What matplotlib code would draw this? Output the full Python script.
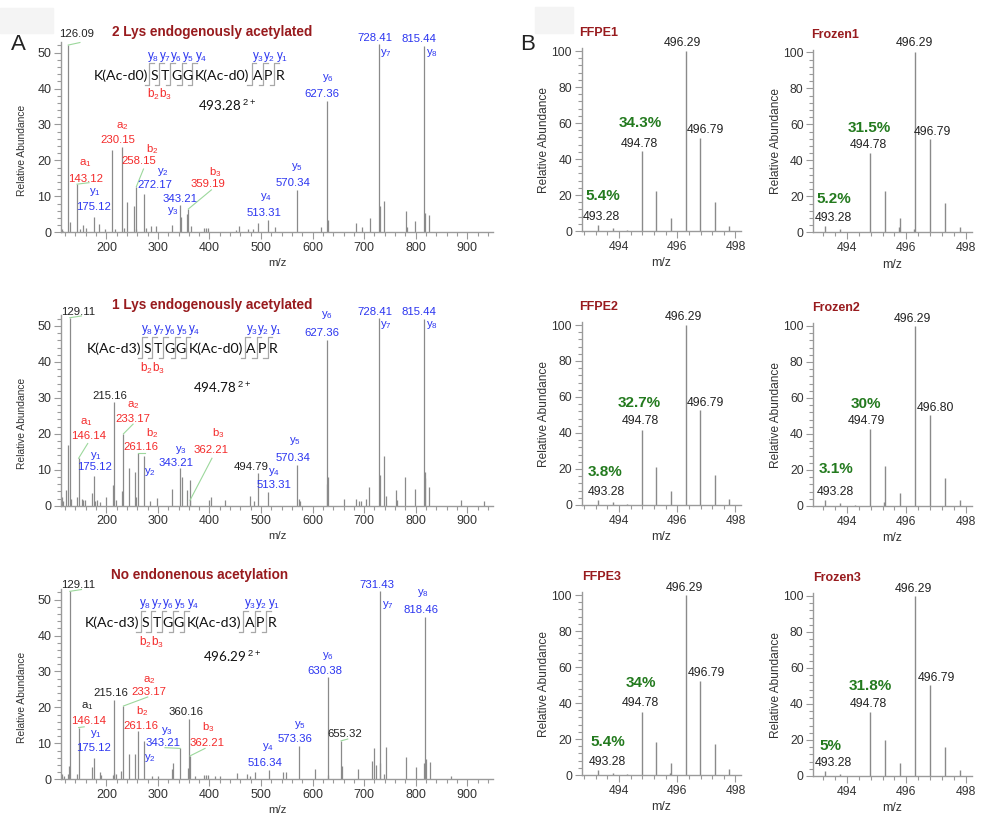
import matplotlib.pyplot as plt
from matplotlib.ticker import MultipleLocator
from matplotlib.lines import Line2D
from matplotlib.patches import Rectangle

plt.rcParams['font.family'] = ['Liberation Sans', 'DejaVu Sans']
plt.rcParams['mathtext.fontset'] = 'custom'
plt.rcParams['mathtext.rm'] = 'Liberation Sans'
plt.rcParams['mathtext.it'] = 'Liberation Sans'
plt.rcParams['mathtext.bf'] = 'Liberation Sans:bold'

W, H = 981, 817
BLUE, RED, BLACK = '#2b35f0', '#f42a2a', '#222222'
DARKRED, GREEN, LEAD = '#981b1e', '#237a1e', '#9cd89c'
PEAK, AXC = '#8a8a8a', '#9a9a9a'
SEQ_FONT = 'Lato'

# ---------------- panel A: MS/MS spectra ----------------
titles_a = ['2 Lys endogenously acetylated', '1 Lys endogenously acetylated',
            'No endonenous acetylation']
sequences = [['K(Ac-d0)', 'S', 'T', 'G', 'G', 'K(Ac-d0)', 'A', 'P', 'R'],
             ['K(Ac-d3)', 'S', 'T', 'G', 'G', 'K(Ac-d0)', 'A', 'P', 'R'],
             ['K(Ac-d3)', 'S', 'T', 'G', 'G', 'K(Ac-d3)', 'A', 'P', 'R']]
precursors = ['493.28', '494.78', '496.29']
y_ions = ['y$_8$', 'y$_7$', 'y$_6$', 'y$_5$', 'y$_4$', 'y$_3$', 'y$_2$', 'y$_1$']
b_ions = ['b$_2$', 'b$_3$']

mz_a1 = [114, 116.4, 126.09, 129.3, 143.12, 148.7, 153.8, 160.3, 175.12, 184.8,
         197.1, 211.9, 216.5, 230.15, 233.9, 240.4, 253.3, 257.1, 258.15, 272.17,
         277.8, 286.2, 295.9, 327.5, 343.21, 344.3, 357.2, 359.19, 364.3, 388.8,
         392.7, 397.9, 450.8, 457.3, 475.4, 485.4, 494.1, 513.31, 527.0, 570.34,
         616.7, 627.36, 630.9, 684.5, 695.5, 711.6, 728.41, 731.0, 739.4, 781.3,
         782.6, 798.8, 815.44, 817.5, 826.5]
int_a1 = [0.9, 0.5, 52.1, 3.0, 13.4, 1.0, 2.0, 1.3, 4.2, 2.3,
          1.0, 23.0, 1.0, 23.8, 1.2, 8.5, 7.3, 1.0, 12.7, 10.7,
          1.2, 1.8, 1.8, 2.0, 7.6, 4.3, 5.0, 6.5, 1.8, 1.2,
          1.3, 1.2, 0.7, 1.8, 1.0, 1.0, 2.6, 3.4, 1.4, 11.9,
          1.5, 36.6, 3.5, 2.6, 1.4, 4.0, 52.3, 7.3, 8.7, 6.0,
          1.5, 3.2, 51.8, 5.5, 4.8]

mz_a2 = [113, 116.2, 121.4, 125.9, 129.11, 131, 143.3, 146.14, 152.4, 154.9,
         158.8, 173, 175.12, 178.8, 182, 187.2, 200.1, 213, 215.16, 218.2,
         231.1, 233.17, 244, 255, 258.2, 261.16, 272.4, 285.3, 298.3, 327.3,
         343.21, 347.3, 357, 361.5, 362.21, 399, 402.2, 430.6, 477.7, 485.5,
         494.79, 513.31, 570.34, 573.3, 576.5, 627.36, 628.4, 630.7, 660.4, 684.3,
         689.5, 694, 703.7, 710.1, 728.41, 730.2, 738.6, 741.9, 761.8, 763,
         779.8, 799.2, 815.44, 817.4, 818.6, 826.3, 887.7, 932.9]
int_a2 = [2.5, 1.2, 4.5, 17, 52.3, 1.8, 2.5, 13.2, 1.8, 1.5,
          1.5, 3.5, 8.3, 1.3, 1.5, 1.0, 2.3, 5.7, 28.8, 1.5,
          4.2, 20, 10.4, 9.3, 2.3, 14.8, 13.8, 1.3, 2.2, 4.6,
          10.5, 8.0, 4.5, 7.2, 1.5, 1.7, 2.4, 1.7, 2.8, 1.3,
          9.0, 3.9, 11.3, 1.8, 1.3, 46.1, 6.0, 8.0, 1.8, 1.8,
          1.3, 1.2, 2.0, 5.3, 52.1, 8.6, 13.8, 2.7, 4.5, 1.5,
          8.1, 4.6, 52.0, 9.5, 7.8, 5.1, 1.6, 1.4]

mz_a3 = [113, 114.9, 118.1, 125.9, 127.8, 129.11, 143.3, 146.14, 173.1, 175.12,
         187.2, 189.1, 213, 214.3, 215.16, 218.2, 229.2, 233.17, 244, 255,
         261.16, 272.4, 289.2, 300.2, 327.3, 328.6, 343.21, 358.3, 360.16, 362.21,
         371.2, 388.6, 392.5, 397, 409.9, 420.9, 453.6, 473, 479.4, 489.1,
         516.34, 542.3, 548.7, 573.36, 605.5, 629.4, 630.38, 655.32, 656.5, 687.5,
         715.3, 719.2, 723, 730.8, 731.43, 739.2, 742.4, 781.1, 800.5, 816.8,
         818.46, 819.9, 828.3, 868.3]
int_a3 = [1.5, 0.7, 0.8, 1.5, 3.7, 52.3, 1.6, 14.4, 3.5, 5.8,
          2.0, 1.2, 1.2, 1.7, 22.1, 1.5, 2.3, 20.4, 7.1, 7.1,
          13.3, 10.7, 1.0, 1.0, 2.8, 4.5, 8.6, 3.2, 16.7, 6.5,
          0.8, 1.3, 1.3, 1.3, 0.8, 1.0, 1.8, 1.5, 0.9, 2.0,
          2.5, 2.0, 2.0, 9.3, 2.8, 1.2, 28.6, 10.7, 3.7, 2.8,
          5.0, 8.7, 4.0, 4.5, 52.3, 1.5, 9.0, 6.1, 3.3, 4.5,
          45.2, 5.7, 4.8, 0.8]

# peak annotations: text, colour, label m/z, label height
labels_a1 = [('126.09', BLACK, 142.2, 55.1), ('728.41', BLUE, 721.3, 54.0),
             ('y$_7$', BLUE, 742.6, 49.8), ('815.44', BLUE, 807.2, 53.7),
             ('y$_8$', BLUE, 831.1, 49.8), ('y$_6$', BLUE, 629.6, 42.9),
             ('627.36', BLUE, 618.7, 38.4), ('a$_2$', RED, 231.3, 29.6),
             ('230.15', RED, 222.9, 25.7), ('b$_2$', RED, 289.0, 23.2),
             ('258.15', RED, 263.6, 19.8), ('a$_1$', RED, 158.4, 19.2),
             ('143.12', RED, 160.3, 14.8), ('y$_1$', BLUE, 177.7, 11.1),
             ('175.12', BLUE, 175.8, 7.0), ('y$_2$', BLUE, 310.1, 16.9),
             ('272.17', BLUE, 293.9, 13.2), ('b$_3$', RED, 411.0, 16.8),
             ('359.19', RED, 397.2, 13.3), ('343.21', BLUE, 342.4, 9.3),
             ('y$_3$', BLUE, 329.4, 5.8), ('y$_5$', BLUE, 569.6, 18.3),
             ('570.34', BLUE, 561.9, 13.6), ('y$_4$', BLUE, 510.2, 9.7),
             ('513.31', BLUE, 505, 5.3)]
labels_a2 = [('129.11', BLACK, 145.2, 54), ('728.41', BLUE, 721.1, 54),
             ('y$_7$', BLUE, 742.4, 50.3), ('815.44', BLUE, 807, 54),
             ('y$_8$', BLUE, 830.9, 50.3), ('y$_6$', BLUE, 628.1, 53.1),
             ('627.36', BLUE, 618.5, 48), ('215.16', BLACK, 206.6, 30.5),
             ('a$_2$', RED, 251.8, 28), ('233.17', RED, 250.5, 24.1),
             ('a$_1$', RED, 161.4, 23.4), ('146.14', RED, 164.6, 19.4),
             ('b$_2$', RED, 289.2, 20.3), ('261.16', RED, 267.9, 16.2),
             ('b$_3$', RED, 416.4, 20.3), ('362.21', RED, 403.5, 15.5),
             ('y$_1$', BLUE, 178.8, 13.9), ('175.12', BLUE, 176.2, 10.9),
             ('y$_3$', BLUE, 345.4, 15.5), ('343.21', BLUE, 335.7, 11.8),
             ('y$_2$', BLUE, 284, 9.5), ('494.79', BLACK, 480.9, 10.7),
             ('y$_4$', BLUE, 526.1, 9.5), ('513.31', BLUE, 526.1, 5.8),
             ('y$_5$', BLUE, 565, 18.1), ('570.34', BLUE, 561.6, 13.2)]
labels_a3 = [('129.11', BLACK, 145.2, 54.2), ('731.43', BLUE, 724.3, 54.2),
             ('y$_7$', BLUE, 745.6, 48.6), ('y$_8$', BLUE, 814.7, 51.9),
             ('818.46', BLUE, 810.2, 47.2), ('y$_6$', BLUE, 630.7, 34.2),
             ('630.38', BLUE, 623, 30.2), ('a$_2$', RED, 284, 27.7),
             ('233.17', RED, 282.7, 24.2), ('215.16', BLACK, 207.9, 24),
             ('a$_1$', BLACK, 162.7, 20.3), ('146.14', RED, 164.6, 16.1),
             ('b$_2$', RED, 269.8, 18.9), ('261.16', RED, 267.9, 14.7),
             ('360.16', BLACK, 353.8, 18.7), ('b$_3$', RED, 398.3, 14.5),
             ('362.21', RED, 395.7, 10.2), ('y$_1$', BLUE, 178.8, 12.6),
             ('175.12', BLUE, 175.6, 8.6), ('y$_3$', BLUE, 318.3, 13.3),
             ('343.21', BLUE, 309.9, 10.2), ('y$_2$', BLUE, 284, 5.9),
             ('y$_5$', BLUE, 575.9, 15.1), ('573.36', BLUE, 566.2, 11.2),
             ('655.32', BLACK, 661.7, 12.5), ('y$_4$', BLUE, 513.2, 8.9),
             ('516.34', BLUE, 508.7, 4.5)]

# green leader lines: peak m/z -> end point of the line
leaders_a1 = [(126.09, 148.7, 52.8), (143.12, 166.4, 13.8), (258.15, 272, 17.6),
              (359.19, 403.7, 11.8)]
leaders_a2 = [(129.11, 151.7, 52.8), (146.14, 163.8, 17.3), (233.17, 251.8, 22.7),
              (261.16, 275.5, 14.8), (362.21, 404.8, 13.2)]
leaders_a3 = [(129.11, 151.7, 52.8), (146.14, 157, 14.6), (233.17, 280.2, 22.9),
              (343.21, 313.7, 8.8), (362.21, 391.4, 8.6), (655.32, 668.2, 11.2)]

# ---------------- panel B: precursor isotope clusters ----------------
names_b = ['FFPE1', 'Frozen1', 'FFPE2', 'Frozen2', 'FFPE3', 'Frozen3']
mz_b = [[493.28, 493.78, 494.28, 494.78, 495.28, 495.79, 496.29, 496.79, 497.29, 497.79],
        [493.28, 493.78, 494.78, 495.28, 495.74, 495.79, 496.24, 496.29, 496.79, 497.29, 497.79],
        [493.28, 493.78, 494.28, 494.78, 495.28, 495.79, 496.29, 496.79, 497.29, 497.79],
        [493.28, 493.78, 494.28, 494.79, 495.24, 495.28, 495.79, 496.29, 496.80, 497.29, 497.79],
        [493.28, 493.78, 494.28, 494.78, 495.28, 495.74, 495.79, 496.29, 496.79, 497.29, 497.79],
        [493.28, 493.78, 494.78, 495.28, 495.79, 496.29, 496.79, 497.29, 497.79]]
int_b = [[3.3, 1.5, 0.6, 44.6, 22.4, 7.4, 100, 51.9, 16.3, 2.8],
         [3.5, 1.7, 44.3, 23.1, 3.1, 8.1, 1.7, 100, 51.7, 16.1, 3.1],
         [2.8, 1.5, 0.5, 41.9, 21.2, 7.9, 100, 52.6, 16.6, 3.3],
         [3.3, 1.5, 0.5, 42.9, 2.4, 22.5, 7.4, 100, 50.8, 15.3, 3.3],
         [2.8, 1.3, 0.6, 35.2, 18.5, 1.0, 6.5, 100, 52.2, 17.2, 3.1],
         [3.0, 1.1, 35.7, 20.0, 7.4, 100, 50.5, 16.3, 3.3]]
peaklabels_b = [[('496.29', 496.19, 104.6), ('494.78', 494.70, 48.3), ('496.79', 496.98, 56.0), ('493.28', 493.38, 7.6)],
                [('496.29', 496.26, 105.0), ('494.78', 494.72, 48.5), ('496.79', 496.87, 55.6), ('493.28', 493.55, 7.8)],
                [('496.29', 496.23, 104.6), ('494.78', 494.72, 46.5), ('496.79', 496.98, 56.6), ('493.28', 493.58, 7.4)],
                [('496.29', 496.22, 104.0), ('494.79', 494.65, 47.1), ('496.80', 496.98, 54.5), ('493.28', 493.62, 7.9)],
                [('496.29', 496.24, 104.0), ('494.78', 494.72, 39.8), ('496.79', 497.02, 56.5), ('493.28', 493.59, 7.0)],
                [('496.29', 496.23, 104.0), ('494.78', 494.72, 39.9), ('496.79', 497.01, 54.7), ('493.28', 493.56, 7.0)]]
pct_b = [[('34.3%', 494.72, 59.8), ('5.4%', 493.46, 19.4)],
         [('31.5%', 494.75, 58.1), ('5.2%', 493.57, 18.5)],
         [('32.7%', 494.69, 56.8), ('3.8%', 493.52, 18.5)],
         [('30%', 494.65, 56.4), ('3.1%', 493.65, 20.3)],
         [('34%', 494.74, 51.3), ('5.4%', 493.61, 18.5)],
         [('31.8%', 494.78, 49.9), ('5%', 493.47, 16.8)]]


def px(x, y):
    return x / W, 1 - y / H


def style_axes(ax, fs):
    for s in ['top', 'right']:
        ax.spines[s].set_visible(False)
    for s in ['left', 'bottom']:
        ax.spines[s].set_color(AXC)
        ax.spines[s].set_linewidth(1.0)
    ax.tick_params(which='both', colors=AXC, labelcolor='#333333', labelsize=fs,
                   direction='out', width=0.8)
    ax.tick_params(which='major', length=5, pad=2)
    ax.tick_params(which='minor', length=3)


fig = plt.figure(figsize=(W / 100, H / 100), dpi=100)
fig.patch.set_facecolor('white')
fig.patches.append(Rectangle(px(0, 33), 53 / W, 25 / H, transform=fig.transFigure,
                             color='#f4f4f4', zorder=0))
fig.patches.append(Rectangle(px(535, 33), 38 / W, 26 / H, transform=fig.transFigure,
                             color='#f4f4f4', zorder=0))
fig.text(*px(18, 45), 'A', fontsize=16, ha='center', va='center', color='#222')
fig.text(*px(528, 45), 'B', fontsize=16, ha='center', va='center', color='#222')

# fit the sequence font so that "K(Ac-d0)" is about 54 px wide
rend = fig.canvas.get_renderer()
probe = fig.text(0, 0, 'K(Ac-d0)', fontsize=12, family=SEQ_FONT)
seq_fs = 12 * 54 / probe.get_window_extent(rend).width
probe.remove()

res_dx = [0, 60.7, 71.7, 82.7, 94, 101.7, 164.3, 175, 186.7]
res_ha = ['left', 'center', 'center', 'center', 'center', 'left', 'center', 'center', 'center']
marker_dx = [55.7, 65.7, 76.7, 88.3, 99, 158.3, 170, 181]
yion_dx = [60, 72, 83, 95, 108, 165, 176, 189]
bion_dx = [60, 72]

left_bottoms = [232.3, 505.7, 779.3]
title_pos_a = [(211.7, 31.7), (211.7, 305), (199.3, 575)]
seq_anchor = [(93.3, 80), (86.7, 353.3), (85, 627.3)]
prec_off = [(105, 31), (106.7, 39.4), (118, 34.4)]
spectra = [(mz_a1, int_a1, labels_a1, leaders_a1),
           (mz_a2, int_a2, labels_a2, leaders_a2),
           (mz_a3, int_a3, labels_a3, leaders_a3)]

for i, (mz, inten, labs, leads) in enumerate(spectra):
    b = left_bottoms[i]
    ax = fig.add_axes([61 / W, 1 - b / H, 432 / W, 53 * 3.594 / H])
    ax.set_facecolor('none')
    ax.vlines(mz, 0, inten, color=PEAK, lw=0.9, clip_on=False)
    ax.set_xlim(112, 950)
    ax.set_ylim(0, 53)
    ax.xaxis.set_major_locator(MultipleLocator(100))
    ax.xaxis.set_minor_locator(MultipleLocator(20))
    ax.yaxis.set_major_locator(MultipleLocator(10))
    ax.yaxis.set_minor_locator(MultipleLocator(2))
    style_axes(ax, 9)
    ax.set_xlabel('m/z', fontsize=8.2, color='#333')
    ax.xaxis.set_label_coords(0.5, -0.135)
    ax.set_ylabel('Relative Abundance', fontsize=7.4, color='#333')
    ax.yaxis.set_label_coords(-0.078, 0.43)
    lookup = dict(zip(mz, inten))
    for pm, ex, ey in leads:
        ax.plot([pm, ex], [lookup[pm], ey], color=LEAD, lw=0.8, clip_on=False)
    for txt, c, x, y in labs:
        ax.text(x, y, txt, color=c, fontsize=8.2, ha='center', va='center', clip_on=False)
    fig.text(*px(*title_pos_a[i]), titles_a[i], color=DARKRED, fontsize=9.8,
             fontweight='bold', ha='center', va='center')

    # peptide sequence with fragment markers
    x0, base = seq_anchor[i]
    for txt, ha, dx in zip(sequences[i], res_ha, res_dx):
        fig.text(*px(x0 + dx, base), txt, ha=ha, va='baseline', fontsize=seq_fs,
                 family=SEQ_FONT, color='#111')
    for dx in marker_dx:
        xs = [x0 + dx - 4.5, x0 + dx, x0 + dx, x0 + dx + 4.5]
        ys = [base + 5, base + 5, base - 16.7, base - 16.7]
        fig.add_artist(Line2D([x / W for x in xs], [1 - y / H for y in ys],
                              transform=fig.transFigure, color='#a8a8a8', lw=0.9))
    for lab, dx in zip(y_ions, yion_dx):
        fig.text(*px(x0 + dx, base - 21), lab, ha='center', va='baseline',
                 fontsize=8.5, color=BLUE)
    for lab, dx in zip(b_ions, bion_dx):
        fig.text(*px(x0 + dx, base + 18.3), lab, ha='center', va='baseline',
                 fontsize=8.5, color=RED)
    pdx, pdy = prec_off[i]
    fig.text(*px(x0 + pdx, base + pdy), precursors[i] + r'$^{\ 2+}$', ha='left',
             va='baseline', fontsize=seq_fs * 0.95, family=SEQ_FONT, color='#111')

# ---------------- panel B axes ----------------
col_x = [(581.7, 740.7, (492.72, 498.18)), (813.3, 971.7, (492.88, 498.19))]
row_b = [(231, 232.3), (505, 506), (775, 776)]
title_pos_b = [(599, 33.3), (835.5, 35), (599, 307.3), (836, 308.3), (601.7, 577.3), (837.5, 578.3)]

for k in range(6):
    r, c = divmod(k, 2)
    xl, xr, lim = col_x[c]
    b = row_b[r][c]
    ax = fig.add_axes([xl / W, 1 - b / H, (xr - xl) / W, 101.5 * 1.8 / H])
    ax.set_facecolor('none')
    ax.vlines(mz_b[k], 0, int_b[k], color=PEAK, lw=1.0)
    ax.set_xlim(*lim)
    ax.set_ylim(0, 101.5)
    ax.xaxis.set_major_locator(MultipleLocator(2))
    ax.xaxis.set_minor_locator(MultipleLocator(0.4))
    ax.yaxis.set_major_locator(MultipleLocator(20))
    ax.yaxis.set_minor_locator(MultipleLocator(4))
    style_axes(ax, 8.8)
    ax.set_xlabel('m/z', fontsize=8.8, color='#333')
    ax.xaxis.set_label_coords(0.5, -0.145)
    ax.set_ylabel('Relative Abundance', fontsize=8.6, color='#333')
    ax.yaxis.set_label_coords(-0.2, 0.5)
    for txt, x, y in peaklabels_b[k]:
        ax.text(x, y, txt, color=BLACK, fontsize=8.8, ha='center', va='center', clip_on=False)
    for txt, x, y in pct_b[k]:
        ax.text(x, y, txt, color=GREEN, fontsize=11, fontweight='bold',
                ha='center', va='center', clip_on=False)
    fig.text(*px(*title_pos_b[k]), names_b[k], color=DARKRED, fontsize=9,
             fontweight='bold', ha='center', va='center')

fig.savefig('out.png', dpi=100)
